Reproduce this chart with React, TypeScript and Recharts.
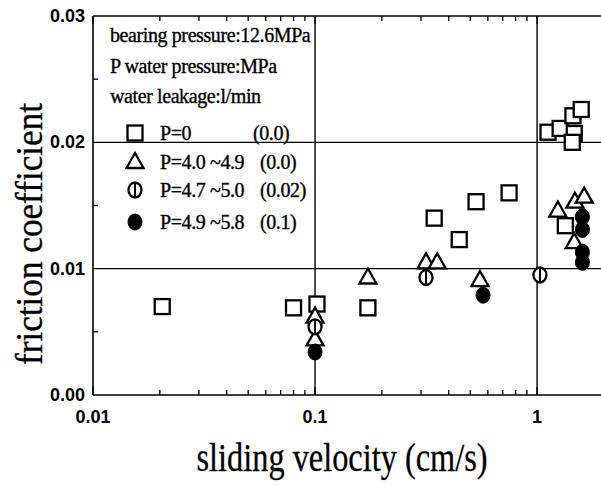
import React from "react";
import {
  ScatterChart,
  Scatter,
  XAxis,
  YAxis,
  ReferenceLine,
  Customized,
} from "recharts";

// ---- data (x: sliding velocity cm/s, y: friction coefficient) ----
const p0Points: [number, number][] = [
  [0.0205, 0.007],
  [0.08, 0.0069],
  [0.102, 0.0072],
  [0.173, 0.0069],
  [0.344, 0.014],
  [0.446, 0.0123],
  [0.531, 0.0153],
  [0.748, 0.016],
  [1.12, 0.0208],
  [1.27, 0.0211],
  [1.45, 0.0221],
  [1.58, 0.0226],
  [1.47, 0.0207],
  [1.44, 0.02],
  [1.34, 0.0134],
];
const p40Points: [number, number][] = [
  [0.1, 0.0062],
  [0.1, 0.0044],
  [0.173, 0.0093],
  [0.316, 0.0105],
  [0.355, 0.0105],
  [0.553, 0.0091],
  [1.24, 0.0146],
  [1.48, 0.0153],
  [1.63, 0.0157],
  [1.47, 0.0121],
];
const p47Points: [number, number][] = [
  [0.1, 0.0054],
  [0.316, 0.0093],
  [1.03, 0.0095],
];
const p49Points: [number, number][] = [
  [0.1, 0.0034],
  [0.571, 0.0079],
  [1.6, 0.0141],
  [1.6, 0.0131],
  [1.6, 0.0113],
  [1.6, 0.0105],
];

const xMajorTicks = [0.01, 0.1, 1];
const xMajorLabels = ["0.01", "0.1", "1"];
const xMinorTicks = [
  0.02, 0.03, 0.04, 0.05, 0.06, 0.07, 0.08, 0.09,
  0.2, 0.3, 0.4, 0.5, 0.6, 0.7, 0.8, 0.9,
];
const yMajorTicks = [0, 0.01, 0.02, 0.03];
const yMajorLabels = ["0.00", "0.01", "0.02", "0.03"];
const yMinorTicks = [0.005, 0.015, 0.025];

const headerLines = [
  "bearing pressure:12.6MPa",
  "P water pressure:MPa",
  "water leakage:l/min",
];
const seriesNames = ["P=0", "P=4.0 ~4.9", "P=4.7 ~5.0", "P=4.9 ~5.8"];
const seriesLeakage = ["(0.0)", "(0.0)", "(0.02)", "(0.1)"];

const toData = (pts: [number, number][]) => pts.map(([x, y]) => ({ x, y }));

const INK = "#000";
const SERIF = "'Liberation Serif', 'Times New Roman', serif";
const SANS = "'Liberation Sans', Arial, sans-serif";

// ---- marker shapes ----
const SquareMark = ({ cx, cy }: any) => (
  <rect x={cx - 7.5} y={cy - 7.5} width={15} height={15} fill="#fff" stroke={INK} strokeWidth={2.3} />
);
const TriangleMark = ({ cx, cy }: any) => (
  <polygon
    points={`${cx},${cy - 9} ${cx - 8.5},${cy + 6} ${cx + 8.5},${cy + 6}`}
    fill="#fff"
    stroke={INK}
    strokeWidth={2.3}
    strokeLinejoin="miter"
  />
);
const BarCircleMark = ({ cx, cy }: any) => (
  <g>
    <ellipse cx={cx} cy={cy} rx={6.5} ry={7.5} fill="#fff" stroke={INK} strokeWidth={2.3} />
    <line x1={cx} x2={cx} y1={cy - 7.5} y2={cy + 7.5} stroke={INK} strokeWidth={2} />
  </g>
);
const FilledMark = ({ cx, cy }: any) => (
  <ellipse cx={cx} cy={cy} rx={7} ry={8} fill={INK} stroke={INK} strokeWidth={1} />
);
const markers = [SquareMark, TriangleMark, BarCircleMark, FilledMark];

const near = (a: number, b: number) => Math.abs(a - b) < 1e-9;

const BottomTick = (props: any) => {
  const { x, y, payload } = props;
  const idx = xMajorTicks.findIndex((t) => near(t, payload.value));
  const major = idx >= 0;
  return (
    <g>
      <line x1={x} x2={x} y1={y} y2={y - (major ? 8 : 5)} stroke={INK} strokeWidth={1.3} />
      {major && (
        <text x={x} y={y + 28} textAnchor="middle" fontFamily={SANS} fontWeight="bold" fontSize={18} fill={INK}>
          {xMajorLabels[idx]}
        </text>
      )}
    </g>
  );
};

const TopTick = (props: any) => {
  const { x, y, payload } = props;
  const major = xMajorTicks.some((t) => near(t, payload.value));
  return <line x1={x} x2={x} y1={y} y2={y + (major ? 8 : 5)} stroke={INK} strokeWidth={1.3} />;
};

const LeftTick = (props: any) => {
  const { x, y, payload } = props;
  const idx = yMajorTicks.findIndex((t) => near(t, payload.value));
  const major = idx >= 0;
  return (
    <g>
      <line x1={x} x2={x + (major ? 0 : 5)} y1={y} y2={y} stroke={INK} strokeWidth={1.3} />
      {major && (
        <text x={x - 8} y={y + 6} textAnchor="end" fontFamily={SANS} fontWeight="bold" fontSize={18} fill={INK}>
          {yMajorLabels[idx]}
        </text>
      )}
    </g>
  );
};

const legendTextProps = {
  fontFamily: SERIF,
  fontSize: 20,
  fill: INK,
  stroke: INK,
  strokeWidth: 0.35,
  letterSpacing: -0.4,
};

const LegendBlock = () => {
  const headerBaselines = [42, 73, 103];
  const rowBaselines = [140, 169, 197, 229];
  const leakX = [253, 260, 260, 260];
  return (
    <g>
      {headerLines.map((t, i) => (
        <text key={t} x={110} y={headerBaselines[i]} {...legendTextProps}>
          {t}
        </text>
      ))}
      {seriesNames.map((name, i) => {
        const M = markers[i];
        return (
          <g key={name}>
            <M cx={135} cy={rowBaselines[i] - 7} />
            <text x={160} y={rowBaselines[i]} {...legendTextProps}>
              {name}
            </text>
            <text x={leakX[i]} y={rowBaselines[i]} {...legendTextProps}>
              {seriesLeakage[i]}
            </text>
          </g>
        );
      })}
    </g>
  );
};

const AxisTitles = () => (
  <g>
    <text
      x={342}
      y={471}
      textAnchor="middle"
      fontFamily={SERIF}
      fontSize={40}
      textLength={291}
      lengthAdjust="spacingAndGlyphs"
      fill={INK}
      stroke={INK}
      strokeWidth={0.3}
    >
      sliding velocity (cm/s)
    </text>
    <text
      x={0}
      y={0}
      transform="translate(42,234) rotate(-90)"
      textAnchor="middle"
      fontFamily={SERIF}
      fontSize={37}
      textLength={262}
      lengthAdjust="spacingAndGlyphs"
      fill={INK}
      stroke={INK}
      strokeWidth={0.3}
    >
      friction coefficient
    </text>
  </g>
);

export default function App() {
  const xTicks = [...xMajorTicks, ...xMinorTicks].sort((a, b) => a - b);
  const yTicks = [...yMajorTicks, ...yMinorTicks].sort((a, b) => a - b);
  return (
    <div style={{ position: "absolute", left: 0, top: 0, width: 601, height: 486, background: "#fff" }}>
      <ScatterChart width={601} height={486} margin={{ top: 0, right: 0, bottom: 0, left: 0 }}>
        <XAxis
          dataKey="x"
          type="number"
          scale="log"
          domain={[0.01, 1.94]}
          allowDataOverflow
          ticks={xTicks}
          tick={<BottomTick />}
          tickSize={0}
          tickMargin={0}
          tickLine={false}
          interval={0}
          height={91}
          axisLine={{ stroke: INK, strokeWidth: 1.6 }}
        />
        <XAxis
          xAxisId="top"
          orientation="top"
          dataKey="x"
          type="number"
          scale="log"
          domain={[0.01, 1.94]}
          allowDataOverflow
          ticks={xTicks}
          tick={<TopTick />}
          tickSize={0}
          tickMargin={0}
          tickLine={false}
          interval={0}
          height={16}
          axisLine={{ stroke: INK, strokeWidth: 1.6 }}
        />
        <YAxis
          dataKey="y"
          type="number"
          domain={[0, 0.03]}
          allowDataOverflow
          ticks={yTicks}
          tick={<LeftTick />}
          tickSize={0}
          tickMargin={0}
          tickLine={false}
          interval={0}
          width={93}
          axisLine={{ stroke: INK, strokeWidth: 1.6 }}
        />
        <ReferenceLine y={0.01} stroke={INK} strokeWidth={1.4} />
        <ReferenceLine y={0.02} stroke={INK} strokeWidth={1.4} />
        <ReferenceLine x={0.1} stroke={INK} strokeWidth={1.4} />
        <ReferenceLine x={1} stroke={INK} strokeWidth={1.4} />
        <Customized component={<LegendBlock />} />
        <Customized component={<AxisTitles />} />
        <Scatter data={toData(p0Points)} shape={(p: any) => <SquareMark {...p} />} isAnimationActive={false} />
        <Scatter data={toData(p40Points)} shape={(p: any) => <TriangleMark {...p} />} isAnimationActive={false} />
        <Scatter data={toData(p47Points)} shape={(p: any) => <BarCircleMark {...p} />} isAnimationActive={false} />
        <Scatter data={toData(p49Points)} shape={(p: any) => <FilledMark {...p} />} isAnimationActive={false} />
      </ScatterChart>
    </div>
  );
}
